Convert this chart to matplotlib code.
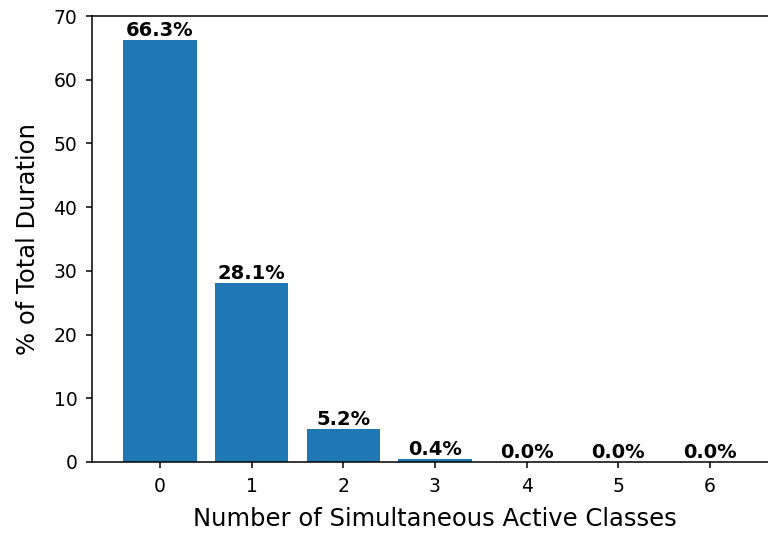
import numpy as np
import matplotlib.pyplot as plt

classes = [0, 1, 2, 3, 4, 5, 6]
pct = [66.3, 28.1, 5.2, 0.4, 0.0, 0.0, 0.0]

def main():
    fig = plt.figure(figsize=(7.68, 5.37), dpi=100)
    ax = fig.add_axes([0.1198, 0.1397, 0.893, 0.8305])
    bars = ax.bar(classes, pct, width=0.8, color='#1f77b4')
    for b, v in zip(bars, pct):
        ax.text(b.get_x() + b.get_width() / 2, v, f"{v:.1f}%", ha='center', va='bottom',
                fontsize=14, fontweight='bold')
    ax.set_ylim(0, 70)
    ax.set_xticks(classes)
    ax.tick_params(labelsize=13.5, length=4.5, width=1.1, pad=6)
    for s in ax.spines.values():
        s.set_linewidth(1.1)
    ax.set_xlabel("Number of Simultaneous Active Classes", fontsize=17.5, labelpad=8)
    ax.set_ylabel("% of Total Duration", fontsize=17.5, labelpad=10)
    fig.savefig("out.png", dpi=100)

if __name__ == "__main__":
    main()
